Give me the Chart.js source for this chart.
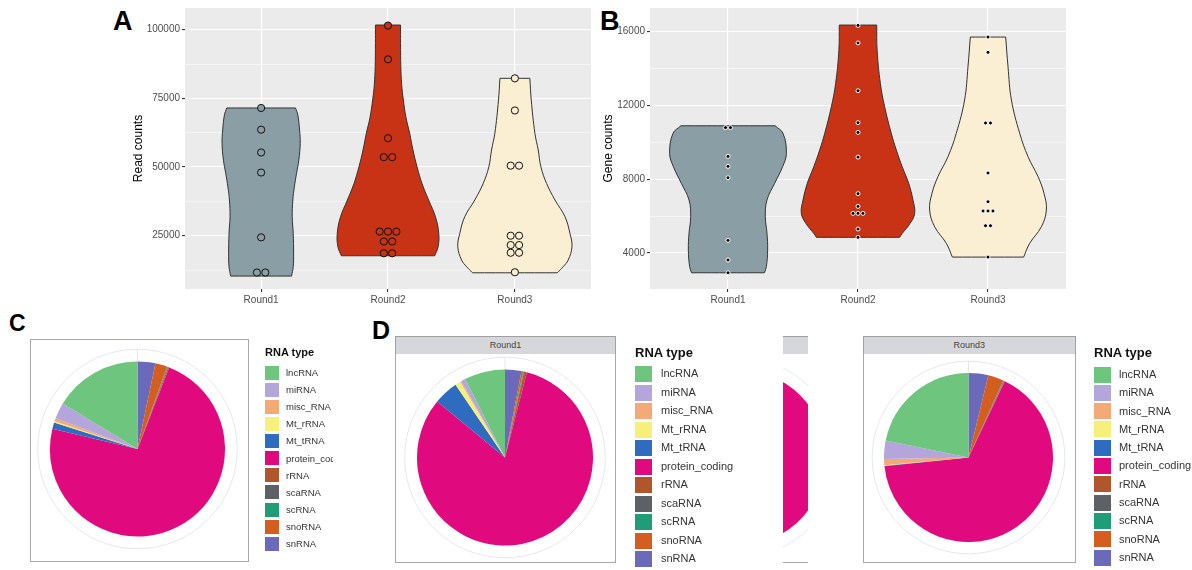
<!DOCTYPE html>
<html>
<head>
<meta charset="utf-8">
<script src="https://cdn.jsdelivr.net/npm/chart.js@4.4.0/dist/chart.umd.min.js"></script>
<style>
  body { margin: 0; width: 1192px; height: 570px; background: #fff; position: relative; overflow: hidden;
         font-family: "Liberation Sans", Arial, sans-serif; }
  .abs { position: absolute; }
  .tag { position: absolute; font-weight: bold; line-height: 1; color: #000; }
  .frame { position: absolute; border: 1.5px solid #a9a9a9; background: #fff; box-sizing: border-box; }
  .strip { position: absolute; background: #d5d7da; border: 1.5px solid #a0a0a0; box-sizing: border-box;
           font-size: 9px; font-weight: normal; color: #444; text-align: center; }
  .lg-title { position: absolute; font-weight: bold; color: #111; white-space: nowrap; }
  .lg-box { position: absolute; }
  .lg-lab { position: absolute; color: #333; white-space: nowrap; }
</style>
</head>
<body>

<div class="tag" style="left:113px;top:8px;font-size:27px">A</div>
<div class="tag" style="left:600px;top:8px;font-size:27px">B</div>
<div class="tag" style="left:9px;top:312px;font-size:23px">C</div>
<div class="tag" style="left:372px;top:318px;font-size:25px">D</div>

<div class="abs" style="left:127px;top:0;width:473px;height:310px"><canvas id="reads" width="473" height="310"></canvas></div>
<div class="abs" style="left:597px;top:0;width:483px;height:310px"><canvas id="genes" width="483" height="310"></canvas></div>

<!-- C -->
<div class="frame" style="left:30px;top:338.5px;width:219px;height:223px">
  <canvas id="pieAll" width="216" height="220"></canvas>
</div>
<div id="legC" class="abs" style="left:0;top:0;width:333px;height:570px;overflow:hidden"></div>

<!-- D Round1 -->
<div class="strip" style="left:395px;top:336px;width:221px;height:19px;line-height:16px">Round1</div>
<div class="frame" style="left:395px;top:353.5px;width:221px;height:209px;border-top:none">
  <canvas id="pieR1" width="218" height="207"></canvas>
</div>
<div id="legD1" class="abs" style="left:0;top:0;width:1192px;height:570px"></div>

<!-- D Round2 (only a sliver is visible) -->
<div class="abs" style="left:783px;top:336px;width:24.5px;height:227px;overflow:hidden">
  <div class="strip" style="left:-155.5px;top:0;width:221px;height:19px;line-height:16px">Round2</div>
  <div class="frame" style="left:-155.5px;top:17.5px;width:221px;height:209px;border-top:none">
    <canvas id="pieR2" width="218" height="207"></canvas>
  </div>
</div>

<!-- D Round3 -->
<div class="strip" style="left:863px;top:336px;width:212.5px;height:19px;line-height:16px">Round3</div>
<div class="frame" style="left:863px;top:353.5px;width:212.5px;height:209px;border-top:none">
  <canvas id="pieR3" width="209.5" height="207"></canvas>
</div>
<div id="legD3" class="abs" style="left:0;top:0;width:1192px;height:570px"></div>

<script>
Chart.defaults.font.family = '"Liberation Sans", Arial, sans-serif';

// ---- data ----
const rounds = ['Round1', 'Round2', 'Round3'];
const roundColors = ['#8a9ea5', '#c73314', '#faeed3'];

// panel A: read counts per sample
const reads_R1 = [71500, 63600, 55300, 48000, 24400, 11600, 11600];
const reads_R2 = [101500, 89200, 60500, 53600, 53600, 26500, 26500, 26500, 22900, 22900, 18600, 18600];
const reads_R3 = [82300, 70600, 50500, 50500, 25000, 25000, 21600, 21600, 18800, 18800, 11700];

// panel B: gene counts per sample
const genes_R1 = [10800, 10800, 9240, 8700, 8080, 4690, 3620, 2930];
const genes_R2 = [16340, 15390, 12800, 11070, 10540, 9200, 7220, 6530, 6150, 6150, 6150, 5300, 4850];
const genes_R3 = [15710, 14880, 11050, 11050, 8340, 6780, 6280, 6280, 6280, 5480, 5480, 3780];

// violin outlines: value levels (top to bottom) and half width in category units
const readViolinY_R1 = [71500, 69000, 63500, 58600, 52500, 47700, 42800, 38000, 31900, 25850, 18600, 13700, 10300];
const readViolinW_R1 = [0.271, 0.289, 0.303, 0.308, 0.297, 0.279, 0.262, 0.250, 0.245, 0.253, 0.256, 0.253, 0.240];
const readViolinY_R2 = [101700, 95000, 86500, 80000, 74400, 68000, 62250, 56200, 50100, 44000, 38000, 31900, 25850, 21000, 17700];
const readViolinW_R2 = [0.099, 0.099, 0.101, 0.108, 0.121, 0.142, 0.171, 0.197, 0.229, 0.268, 0.320, 0.374, 0.400, 0.395, 0.368];
const readViolinY_R3 = [82300, 74400, 62250, 56200, 50100, 44000, 38000, 31900, 25850, 21000, 16140, 13700, 11500];
const readViolinW_R3 = [0.118, 0.129, 0.158, 0.184, 0.205, 0.250, 0.316, 0.395, 0.434, 0.450, 0.420, 0.380, 0.334];

const geneViolinY_R1 = [10900, 10490, 9400, 8680, 7780, 6880, 5975, 5070, 4160, 3260, 2930];
const geneViolinW_R1 = [0.362, 0.423, 0.449, 0.420, 0.359, 0.300, 0.287, 0.300, 0.305, 0.295, 0.280];
const geneViolinY_R2 = [16360, 15000, 13200, 11930, 10490, 9580, 8680, 7780, 6870, 6150, 5600, 5060, 4850];
const geneViolinW_R2 = [0.144, 0.147, 0.172, 0.205, 0.256, 0.295, 0.340, 0.390, 0.423, 0.436, 0.400, 0.340, 0.320];
const geneViolinY_R3 = [15710, 14100, 12300, 10490, 9220, 8140, 7230, 6330, 5420, 4520, 3780];
const geneViolinW_R3 = [0.136, 0.154, 0.180, 0.244, 0.308, 0.385, 0.431, 0.449, 0.410, 0.320, 0.274];

// axis ticks
const readMajor = [25000, 50000, 75000, 100000];
const readMinor = [12500, 37500, 62500, 87500];
const geneMajor = [4000, 8000, 12000, 16000];
const geneMinor = [6000, 10000, 14000];

// pies: share (%) per RNA type
const rnaTypes = ['lncRNA', 'miRNA', 'misc_RNA', 'Mt_rRNA', 'Mt_tRNA', 'protein_coding', 'rRNA', 'scaRNA', 'scRNA', 'snoRNA', 'snRNA'];
const rnaColors = ['#6dc57e', '#b4a5da', '#f3aa77', '#f6f07a', '#2f6cc0', '#e1097e', '#b0552c', '#5d6166', '#1f9d78', '#d35e20', '#6b69ba'];
const share_all = [16.3, 3.0, 0.6, 0.2, 1.2, 72.9, 0.2, 0.1, 0.1, 2.2, 3.3];
const share_R1  = [7.5, 0.8, 0.2, 1.0, 4.5, 82.0, 0.5, 0.1, 0.1, 0.3, 3.0];
const share_R2  = [13.0, 2.0, 0.5, 0.3, 2.0, 77.5, 0.3, 0.1, 0.1, 1.7, 2.5];
const share_R3  = [21.9, 3.5, 1.2, 0.1, 0.1, 66.6, 0.1, 0.1, 0.1, 3.0, 3.8];

// ---- helpers ----
// closed outline; corner points doubled so the flat top/bottom stay flat with a smoothed line
function violinOutline(center, ys, ws) {
  const left = ys.map((v, i) => ({x: center - ws[i], y: v}));
  const right = ys.map((v, i) => ({x: center + ws[i], y: v})).reverse();
  const n = left.length;
  return [left[0]].concat(left.slice(1, n), [left[n - 1]], [right[0]], right, [right[n - 1], left[0]]);
}

function stackDots(values, center, step) {
  const counts = {}, seen = {};
  values.forEach(v => counts[v] = (counts[v] || 0) + 1);
  return values.map(v => {
    seen[v] = seen[v] === undefined ? 0 : seen[v] + 1;
    return {x: center + (seen[v] - (counts[v] - 1) / 2) * step, y: v};
  });
}

const panelBg = {
  id: 'panelBg',
  beforeDraw(chart) {
    const a = chart.chartArea, ctx = chart.ctx;
    ctx.save();
    ctx.fillStyle = '#ebebeb';
    ctx.fillRect(a.left, a.top, a.right - a.left, a.bottom - a.top);
    ctx.restore();
  }
};

function violinChart(id, o) {
  const datasets = [];
  o.points.forEach((vals, i) => {
    datasets.push({
      type: 'scatter', order: 0,
      data: stackDots(vals, i + 1, o.dotStep),
      pointRadius: o.dotR, pointBorderWidth: o.dotBorderW,
      pointBackgroundColor: o.dotFill ? o.dotFill : roundColors[i],
      pointBorderColor: o.dotBorder
    });
  });
  o.outlineY.forEach((ys, i) => {
    datasets.push({
      type: 'line', order: 1,
      data: violinOutline(i + 1, ys, o.outlineW[i]),
      borderColor: '#333', borderWidth: 1,
      backgroundColor: roundColors[i], fill: 'shape',
      pointRadius: 0, tension: 0.4
    });
  });
  const ticks = o.major.concat(o.minor).sort((a, b) => a - b);
  const isMajor = v => o.major.indexOf(v) >= 0;
  return new Chart(document.getElementById(id), {
    type: 'scatter',
    data: {datasets},
    options: {
      responsive: false, animation: false, events: [], devicePixelRatio: 1,
      layout: {padding: {top: 8, right: o.padRight, left: 0, bottom: 0}},
      plugins: {legend: {display: false}, tooltip: {enabled: false}},
      scales: {
        x: {
          type: 'linear', min: 0.4, max: 3.6,
          afterBuildTicks: s => { s.ticks = [1, 2, 3].map(v => ({value: v})); },
          afterFit: s => { s.height = 21; },
          ticks: {callback: v => rounds[v - 1], color: '#4d4d4d', font: {size: 10}, padding: 2, maxRotation: 0},
          grid: {color: '#ffffff', lineWidth: 1.1, tickColor: '#333', tickLength: 3},
          border: {display: false}
        },
        y: {
          min: o.min, max: o.max,
          afterBuildTicks: s => { s.ticks = ticks.map(v => ({value: v})); },
          afterFit: s => { s.width = o.axisW; },
          ticks: {callback: v => isMajor(v) ? String(v) : '', color: '#4d4d4d', font: {size: 10}, padding: 2},
          grid: {
            color: '#ffffff',
            lineWidth: c => (c.tick && isMajor(c.tick.value)) ? 1.1 : 0.55,
            tickColor: c => (c.tick && isMajor(c.tick.value)) ? '#333' : 'rgba(0,0,0,0)',
            tickLength: 3
          },
          border: {display: false},
          title: {display: true, text: o.title, color: '#000', font: {size: 12}, padding: {top: 4, bottom: 2}}
        }
      }
    },
    plugins: [panelBg]
  });
}

violinChart('reads', {
  points: [reads_R1, reads_R2, reads_R3],
  outlineY: [readViolinY_R1, readViolinY_R2, readViolinY_R3],
  outlineW: [readViolinW_R1, readViolinW_R2, readViolinW_R3],
  major: readMajor, minor: readMinor, min: 5600, max: 107900,
  title: 'Read counts', axisW: 58, padRight: 9,
  dotStep: 0.066, dotR: 3.6, dotBorderW: 1, dotBorder: '#111'
});

violinChart('genes', {
  points: [genes_R1, genes_R2, genes_R3],
  outlineY: [geneViolinY_R1, geneViolinY_R2, geneViolinY_R3],
  outlineW: [geneViolinW_R1, geneViolinW_R2, geneViolinW_R3],
  major: geneMajor, minor: geneMinor, min: 2050, max: 17285,
  title: 'Gene counts', axisW: 53, padRight: 14,
  dotStep: 0.038, dotR: 2, dotBorderW: 1, dotBorder: '#ffffff', dotFill: '#000'
});

// faint polar ring behind each pie
const polarRing = {
  id: 'polarRing',
  beforeDatasetsDraw(chart) {
    const arc = chart.getDatasetMeta(0).data[0];
    if (!arc) return;
    const ctx = chart.ctx;
    ctx.save();
    ctx.strokeStyle = '#e4e8ee';
    ctx.lineWidth = 1;
    ctx.beginPath();
    ctx.arc(arc.x, arc.y, arc.outerRadius * 1.14, 0, Math.PI * 2);
    ctx.stroke();
    ctx.beginPath();
    ctx.moveTo(arc.x, arc.y - arc.outerRadius);
    ctx.lineTo(arc.x, arc.y - arc.outerRadius * 1.14);
    ctx.stroke();
    ctx.restore();
  }
};

function pieChart(id, shares, radius, pad) {
  // ggplot stacks in reverse level order, clockwise from the top
  return new Chart(document.getElementById(id), {
    type: 'pie',
    data: {
      labels: rnaTypes.slice().reverse(),
      datasets: [{
        data: shares.slice().reverse(),
        backgroundColor: rnaColors.slice().reverse(),
        borderWidth: 0,
        radius: radius
      }]
    },
    options: {
      responsive: false, animation: false, events: [], devicePixelRatio: 1,
      layout: {padding: pad},
      plugins: {legend: {display: false}, tooltip: {enabled: false}}
    },
    plugins: [polarRing]
  });
}

pieChart('pieAll', share_all, 87.5, {left: 0, top: 0, right: 3, bottom: 2});
pieChart('pieR1', share_R1, 88, 0);
pieChart('pieR2', share_R2, 88, 0);
pieChart('pieR3', share_R3, 84.5, 0);

// legends
function legend(elId, o) {
  const el = document.getElementById(elId);
  let html = '<div class="lg-title" style="left:' + o.x + 'px;top:' + (o.titleY - o.titleSize * 0.6) +
    'px;font-size:' + o.titleSize + 'px">RNA type</div>';
  rnaTypes.forEach((t, i) => {
    const cy = o.rowY + i * o.rowH;
    html += '<div class="lg-box" style="left:' + o.x + 'px;top:' + (cy - o.boxH / 2) + 'px;width:' + o.boxW +
      'px;height:' + o.boxH + 'px;background:' + rnaColors[i] + '"></div>';
    html += '<div class="lg-lab" style="left:' + o.labX + 'px;top:' + (cy - o.fontSize * 0.6) +
      'px;font-size:' + o.fontSize + 'px;line-height:' + (o.fontSize * 1.2) + 'px">' + t + '</div>';
  });
  el.innerHTML = html;
}

legend('legC',  {x: 265, titleY: 353, titleSize: 11, rowY: 372.7, rowH: 17.1, boxW: 14, boxH: 14, labX: 286, fontSize: 9.5});
legend('legD1', {x: 635, titleY: 353, titleSize: 13, rowY: 374, rowH: 18.5, boxW: 17, boxH: 16, labX: 661, fontSize: 11});
legend('legD3', {x: 1094, titleY: 353, titleSize: 13, rowY: 374.5, rowH: 18.3, boxW: 17, boxH: 16, labX: 1119, fontSize: 11});
</script>
</body>
</html>
